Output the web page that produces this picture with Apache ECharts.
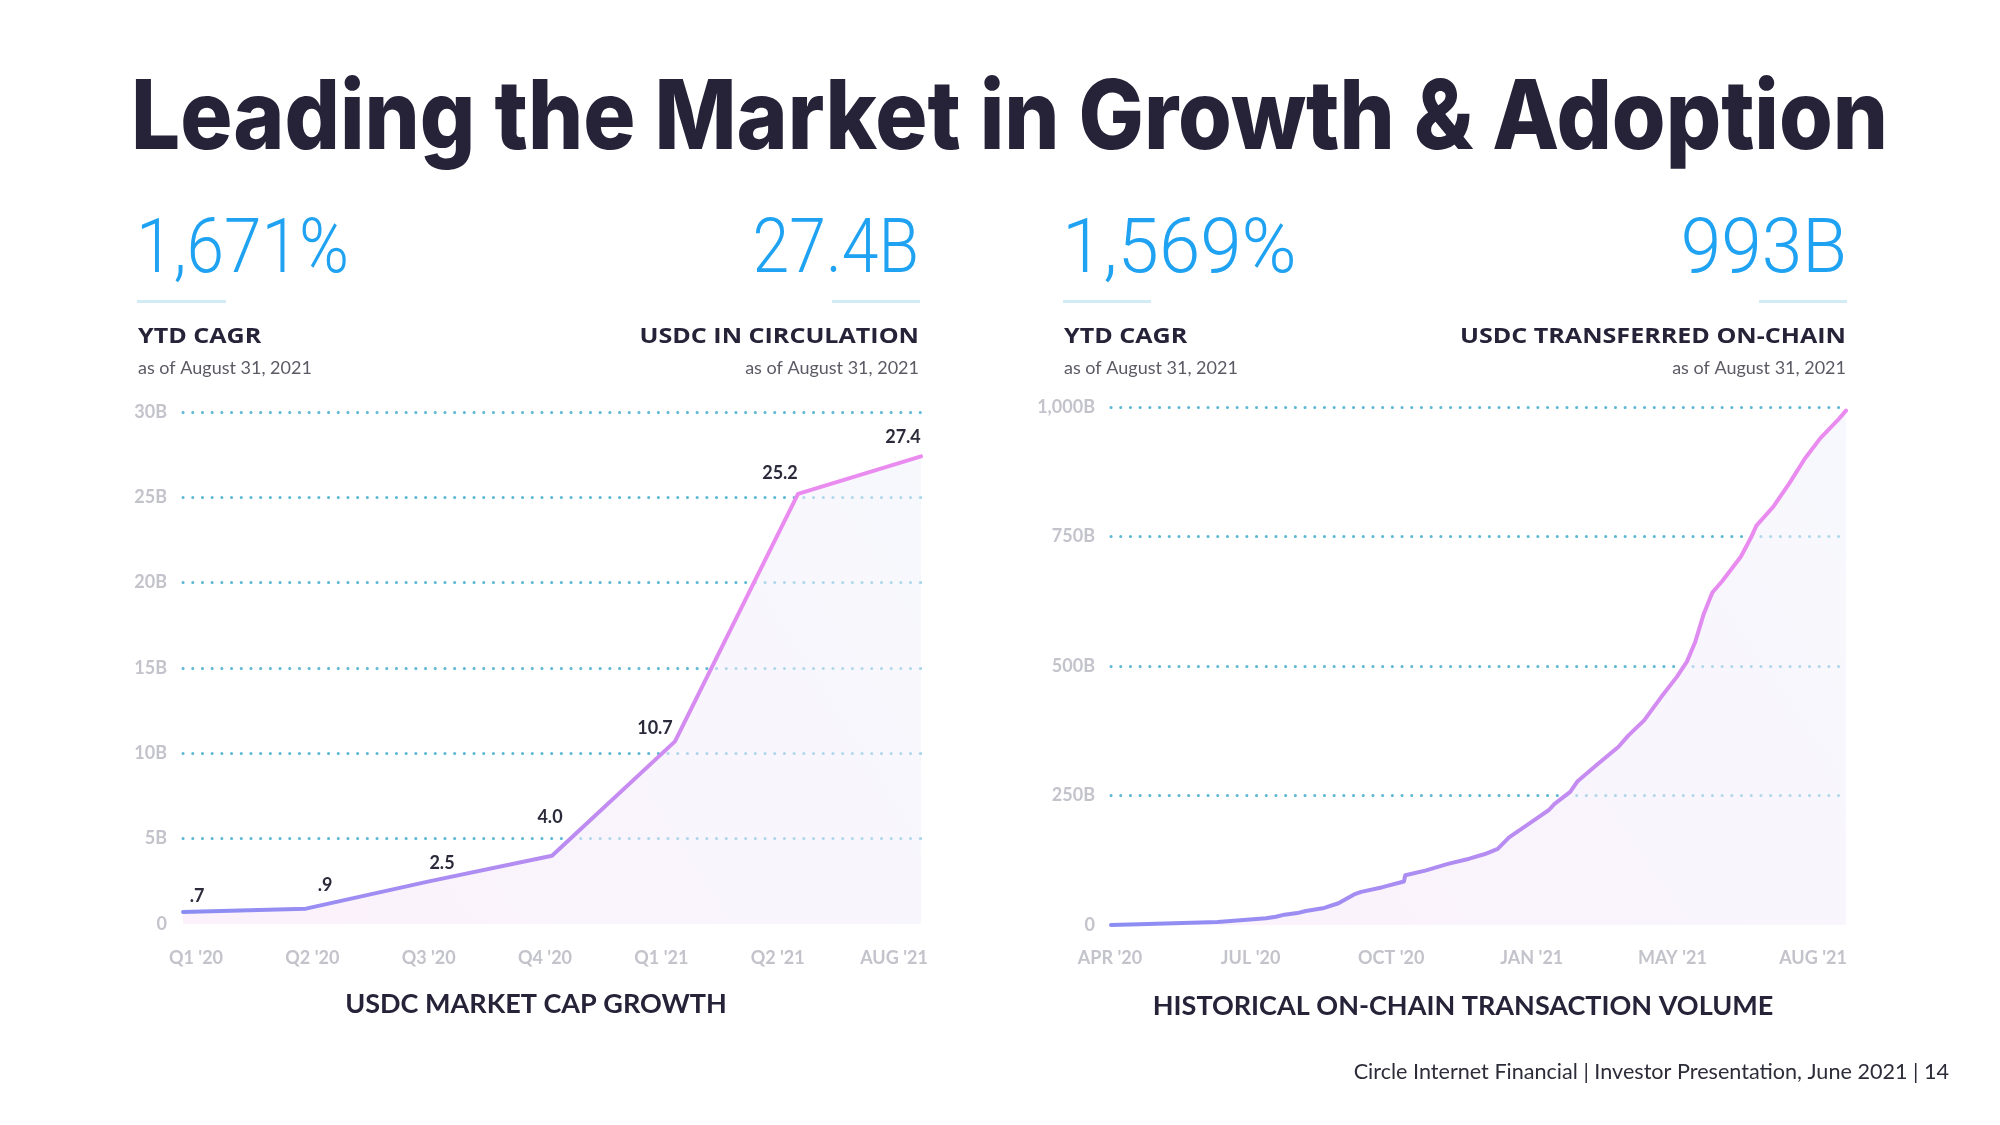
<!DOCTYPE html>
<html><head><meta charset="utf-8">
<script src="https://cdn.jsdelivr.net/npm/echarts@6/dist/echarts.min.js"></script>
<style>html,body{margin:0;padding:0;background:#fff}#c{width:2000px;height:1125px}</style>
</head><body><div id="c"></div>
<script>
// ---------- DATA ----------
const marketCapCategories = ["Q1 '20", "Q2 '20", "Q3 '20", "Q4 '20", "Q1 '21", "Q2 '21", "AUG '21"];
const marketCapValues = [0.7, 0.9, 2.5, 4.0, 10.7, 25.2, 27.4];
const marketCapValueLabels = [".7", ".9", "2.5", "4.0", "10.7", "25.2", "27.4"];

const volumeDates = ["2020-04-01","2020-04-27","2020-06-15","2020-07-19","2020-07-26","2020-08-01","2020-08-10","2020-08-16","2020-08-29","2020-09-08","2020-09-19","2020-09-24","2020-10-09","2020-10-24","2020-10-25","2020-11-08","2020-11-24","2020-12-09","2020-12-20","2020-12-29","2021-01-06","2021-01-15","2021-01-26","2021-02-03","2021-02-07","2021-02-18","2021-02-23","2021-03-09","2021-03-24","2021-03-31","2021-04-11","2021-04-23","2021-05-04","2021-05-11","2021-05-17","2021-05-23","2021-05-29","2021-06-05","2021-06-18","2021-06-25","2021-06-29","2021-07-11","2021-07-22","2021-08-02","2021-08-13","2021-08-25","2021-08-31"];
const volumeValues = [0,2,6,13,16,20,23,27,33,42,59,64,73,84,96,105,118,128,137,147,169,186,207,222,234,257,277,310,344,366,395,440,479,508,547,601,642,664,711,747,771,808,852,900,940,974,993];
const volumeTickLabels = ["APR '20", "JUL '20", "OCT '20", "JAN '21", "MAY '21", "AUG '21"];

// ---------- STYLE ----------
const DARK = '#262339';
const BLUE = '#1ea2f1';
const GRID_DOT = '#5cb8d5';
const AXIS_GREY = '#c3c3cb';
const labelOffsets = [[14,-1],[19,-9],[13,-4],[-2,-24],[-20,1],[-18,-6],[-18,-5]];

function lineGrad() {
  return new echarts.graphic.LinearGradient(0, 1, 0.6, 0, [
    {offset: 0, color: '#8a8df3'}, {offset: 1, color: '#ea8bf0'}]);
}
function areaGrad() {
  return new echarts.graphic.LinearGradient(0, 1, 1, 0, [
    {offset: 0, color: 'rgba(249,230,249,0.8)'}, {offset: 1, color: 'rgba(240,243,251,0.8)'}]);
}
const splitLineCfg = {show: true, showMinLine: false,
  lineStyle: {color: GRID_DOT, width: 3, type: [0.1, 9.6], cap: 'round'}};
const yLabelCfg = {color: AXIS_GREY, fontFamily: 'Lato', fontWeight: 'bold', fontSize: 18, margin: 16};
const xLabelCfg = {color: AXIS_GREY, fontFamily: 'Lato', fontWeight: 'bold', fontSize: 18, margin: 8};

function txt(x, y, text, font, fill, align, sx) {
  return {type: 'text', x: x, y: y, scaleX: sx || 1, silent: true,
    style: {text: text, font: font, fill: fill, align: align || 'left', verticalAlign: 'middle'}};
}
function bar(x, y, w) {
  return {type: 'rect', shape: {x: x, y: y, width: w, height: 3}, style: {fill: '#d3eaf7'}, silent: true};
}
const BIG = '300 76px Roboto';
const HEAD = 'bold 22px "Open Sans"';
const SUB = '18px Lato';

const option = {
  backgroundColor: '#ffffff',
  animation: false,
  grid: [
    {left: 183, top: 412, width: 738, height: 512},
    {left: 196, top: 940, width: 698, height: 1},
    {left: 1111, top: 407, width: 735, height: 518},
    {left: 1110, top: 940, width: 703, height: 1}
  ],
  xAxis: [
    {gridIndex: 0, type: 'category', data: marketCapCategories, boundaryGap: false,
      axisLine: {show: false}, axisTick: {show: false}, axisLabel: {show: false}},
    {gridIndex: 1, type: 'category', data: marketCapCategories, boundaryGap: false,
      axisLine: {show: false}, axisTick: {show: false}, axisLabel: xLabelCfg},
    {gridIndex: 2, type: 'time', min: '2020-04-01', max: '2021-08-31',
      axisLine: {show: false}, axisTick: {show: false}, axisLabel: {show: false}, splitLine: {show: false}},
    {gridIndex: 3, type: 'category', data: volumeTickLabels, boundaryGap: false,
      axisLine: {show: false}, axisTick: {show: false}, axisLabel: xLabelCfg}
  ],
  yAxis: [
    {gridIndex: 0, type: 'value', min: 0, max: 30, interval: 5,
      axisLine: {show: false}, axisTick: {show: false}, splitLine: splitLineCfg,
      axisLabel: Object.assign({}, yLabelCfg, {formatter: v => v === 0 ? '0' : v + 'B'})},
    {gridIndex: 1, type: 'value', show: false},
    {gridIndex: 2, type: 'value', min: 0, max: 1000, interval: 250,
      axisLine: {show: false}, axisTick: {show: false}, splitLine: splitLineCfg,
      axisLabel: Object.assign({}, yLabelCfg, {formatter: v => v === 0 ? '0' : v.toLocaleString('en-US') + 'B'})},
    {gridIndex: 3, type: 'value', show: false}
  ],
  series: [
    {type: 'line', xAxisIndex: 0, yAxisIndex: 0, symbol: 'circle', symbolSize: 1, showSymbol: true,
      itemStyle: {color: 'rgba(0,0,0,0)'},
      data: marketCapValues.map((v, i) => ({value: v, label: {offset: labelOffsets[i]}})),
      lineStyle: {width: 4, color: lineGrad(), cap: 'round', join: 'round'},
      areaStyle: {color: areaGrad(), origin: 'start'},
      label: {show: true, position: 'top', distance: 5, color: '#2a2a3a', fontFamily: 'Lato', fontWeight: 'bold', fontSize: 18,
        formatter: p => marketCapValueLabels[p.dataIndex]}},
    {type: 'line', xAxisIndex: 2, yAxisIndex: 2, symbol: 'none',
      data: volumeDates.map((d, i) => [d, volumeValues[i]]),
      lineStyle: {width: 4, color: lineGrad(), cap: 'round', join: 'round'},
      areaStyle: {color: areaGrad(), origin: 'start'}}
  ],
  graphic: [
    txt(131, 120, 'Leading the Market in Growth & Adoption', '800 96px Inter', DARK, 'left', 0.906),
    txt(136, 253, '1,671%', BIG, BLUE, 'left', 0.89),
    txt(919, 253, '27.4B', BIG, BLUE, 'right', 0.87),
    txt(1062, 253, '1,569%', BIG, BLUE, 'left', 0.98),
    txt(1847, 253, '993B', BIG, BLUE, 'right', 0.96),
    bar(137, 300, 89), bar(832, 300, 88), bar(1063, 300, 88), bar(1759, 300, 88),
    txt(138, 337, 'YTD CAGR', HEAD, DARK, 'left', 1.14),
    txt(919, 337, 'USDC IN CIRCULATION', HEAD, DARK, 'right', 1.14),
    txt(1064, 337, 'YTD CAGR', HEAD, DARK, 'left', 1.14),
    txt(1846, 337, 'USDC TRANSFERRED ON-CHAIN', HEAD, DARK, 'right', 1.14),
    txt(138, 368, 'as of August 31, 2021', SUB, '#5b5b66'),
    txt(919, 368, 'as of August 31, 2021', SUB, '#5b5b66', 'right'),
    txt(1064, 368, 'as of August 31, 2021', SUB, '#5b5b66'),
    txt(1846, 368, 'as of August 31, 2021', SUB, '#5b5b66', 'right'),
    txt(536, 1004, 'USDC MARKET CAP GROWTH', 'bold 27px Lato', DARK, 'center'),
    txt(1463, 1006, 'HISTORICAL ON-CHAIN TRANSACTION VOLUME', 'bold 27px Lato', DARK, 'center'),
    txt(1949, 1072, 'Circle Internet Financial | Investor Presentation, June 2021 | 14', '21.6px Lato', '#2d2d3a', 'right')
  ]
};
const chart = echarts.init(document.getElementById('c'), null, {renderer: 'canvas'});
chart.setOption(option);
</script>
</body></html>
